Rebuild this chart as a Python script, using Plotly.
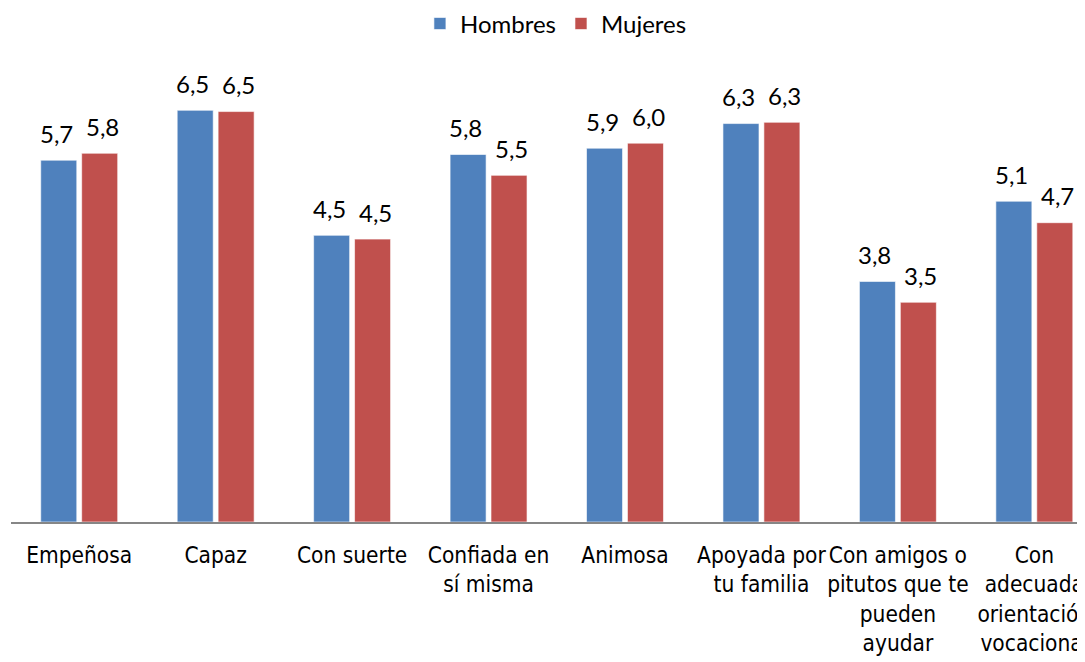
import plotly.graph_objects as go

categories = ["Empeñosa", "Capaz", "Con suerte", "Confiada en<br>sí misma", "Animosa",
              "Apoyada por<br>tu familia", "Con amigos o<br>pitutos que te<br>pueden<br>ayudar",
              "Con<br>adecuada<br>orientación<br>vocacional"]
hombres = [5.73, 6.52, 4.54, 5.82, 5.92, 6.31, 3.81, 5.08]
mujeres = [5.84, 6.50, 4.48, 5.49, 6.00, 6.33, 3.48, 4.74]
series = [("Hombres", hombres, "#4F81BD"), ("Mujeres", mujeres, "#C0504D")]

fig = go.Figure()
for name, vals, col in series:
    fig.add_trace(go.Bar(x=categories, y=vals, name=name, marker_color=col,
                         marker_line=dict(color="rgba(255,255,255,0.6)", width=1)))

anns = []
for (name, vals, col), shift in zip(series, [-23, 23]):
    for c, v in zip(categories, vals):
        anns.append(dict(x=c, y=v, xref="x", yref="y", text=f"{v:.1f}".replace(".", ","),
                         showarrow=False, xshift=shift, yshift=27, yanchor="middle",
                         font=dict(family="Lato", size=24, color="#000")))

fig.update_layout(
    width=1085, height=662,
    margin=dict(l=3, r=0, t=72, b=148),
    paper_bgcolor="white", plot_bgcolor="white",
    barmode="group", bargap=0.40, bargroupgap=0.12,
    annotations=anns,
    showlegend=True,
    legend=dict(orientation="h", xref="container", yref="container", x=0.505, y=0.976,
                xanchor="center", yanchor="middle",
                font=dict(family="Lato", size=24, color="#000")),
    xaxis=dict(range=[-0.5, 7.43], showline=True, linecolor="#868686", linewidth=2,
               showgrid=False, ticks="outside", ticklen=12, tickcolor="rgba(0,0,0,0)",
               tickangle=0, automargin=False,
               tickfont=dict(family="Liberation Sans Narrow, DejaVu Sans Condensed, sans-serif",
                             size=22.5, color="#000")),
    yaxis=dict(range=[0, 7], visible=False, showgrid=False, automargin=False),
)
fig.write_html("out.html")
